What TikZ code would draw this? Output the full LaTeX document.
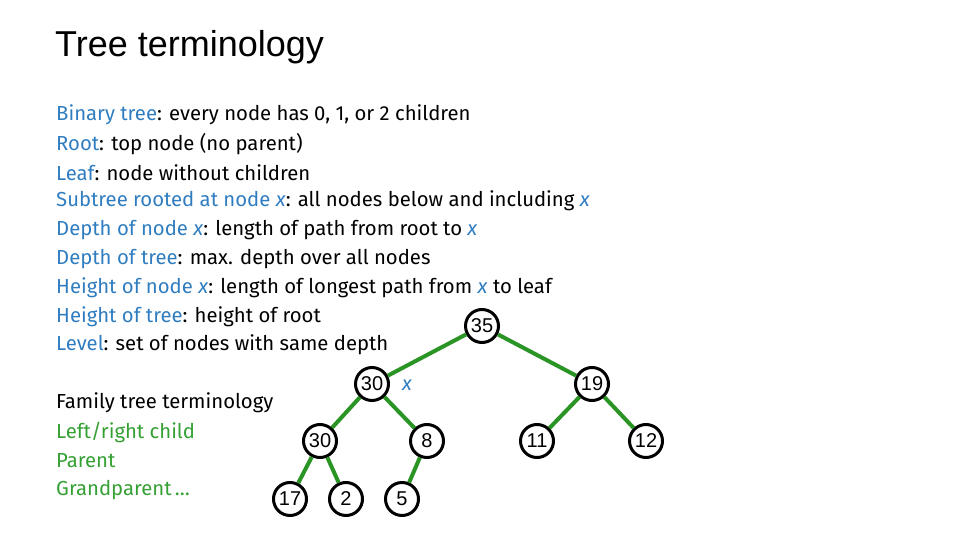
\documentclass[tikz,border=0pt]{standalone}
\usepackage{fontspec}
\setmainfont{Fira Sans}
\newfontfamily\titlefont{Liberation Sans}
\newfontfamily\nodefont{Liberation Sans}
\newcommand{\vx}{\textit{x}}
\definecolor{tblue}{HTML}{2F7DC0}
\definecolor{tgreen}{HTML}{35A033}
\definecolor{egreen}{HTML}{2A9425}
\begin{document}
\begin{tikzpicture}[x=1pt,y=-1pt,
  tn/.style={circle,draw=black,line width=3pt,fill=white,minimum size=33pt,inner sep=0pt,font=\nodefont\fontsize{20}{20}\selectfont},
  ed/.style={draw=egreen,line width=4pt},
  li/.style={anchor=west,inner sep=0pt,font=\fontsize{20.3}{22}\selectfont}]
\useasboundingbox (0,0) rectangle (960,540);
\node[anchor=west,inner sep=0pt,font=\titlefont\fontsize{36}{38}\selectfont] (title) at (55,47) {Tree terminology};
\node[li] (l1) at (56,115) {\textcolor{tblue}{Binary tree}: every node has 0, 1, or 2 children};
\node[li] (l2) at (56,144) {\textcolor{tblue}{Root}: top node (no parent)};
\node[li] (l3) at (56,173) {\textcolor{tblue}{Leaf}: node without children};
\node[li] (l4) at (56,201) {\textcolor{tblue}{Subtree rooted at node \vx}: all nodes below and including \textcolor{tblue}{\vx}};
\node[li] (l5) at (56,230) {\textcolor{tblue}{Depth of node \vx}: length of path from root to \textcolor{tblue}{\vx}};
\node[li] (l6) at (56,259) {\textcolor{tblue}{Depth of tree}: max. depth over all nodes};
\node[li] (l7) at (56,288) {\textcolor{tblue}{Height of node \vx}: length of longest path from \textcolor{tblue}{\vx} to leaf};
\node[li] (l8) at (56,317) {\textcolor{tblue}{Height of tree}: height of root};
\node[li] (l9) at (56,345) {\textcolor{tblue}{Level}: set of nodes with same depth};
\node[li] (f1) at (56,403) {Family tree terminology};
\node[li,text=tgreen] (f2) at (56,432) {Left/right child};
\node[li,text=tgreen] (f3) at (56,461) {Parent};
\node[li,text=tgreen] (f4) at (56,490) {Grandparent\,\dots};
\node[tn] (a) at (482,326) {35};
\node[tn] (b) at (372,384) {30};
\node[tn] (c) at (592,384) {19};
\node[tn] (d) at (320,441) {30};
\node[tn] (e) at (427,441) {8};
\node[tn] (f) at (537,441) {11};
\node[tn] (g) at (646,441) {12};
\node[tn] (h) at (290,499) {17};
\node[tn] (i) at (346,499) {2};
\node[tn] (j) at (402,499) {5};
\node[text=tblue,font=\fontsize{20}{20}\selectfont] (xl) at (407,385) {\vx};
\draw[ed] (a) -- (b); \draw[ed] (a) -- (c);
\draw[ed] (b) -- (d); \draw[ed] (b) -- (e);
\draw[ed] (c) -- (f); \draw[ed] (c) -- (g);
\draw[ed] (d) -- (h); \draw[ed] (d) -- (i);
\draw[ed] (e) -- (j);
\end{tikzpicture}
\end{document}
